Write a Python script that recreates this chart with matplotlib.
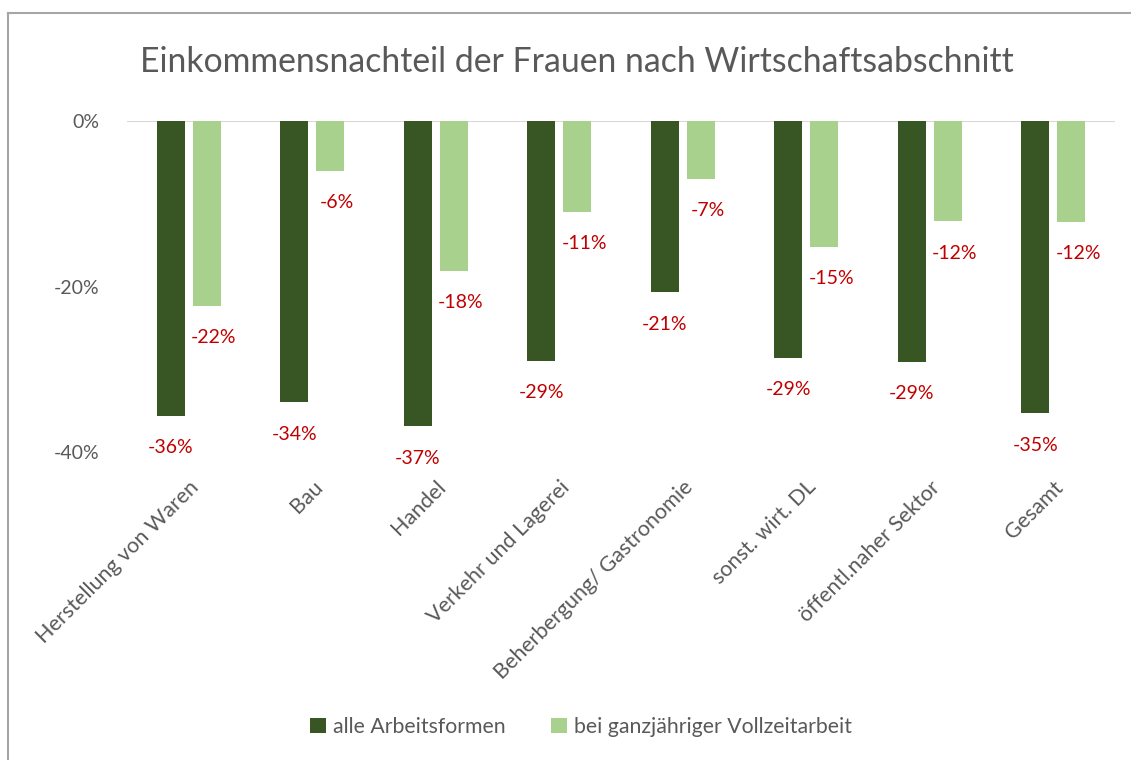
"""Einkommensnachteil der Frauen nach Wirtschaftsabschnitt - Excel-style column chart."""

import matplotlib

matplotlib.use("Agg")
import matplotlib.pyplot as plt
import numpy as np
from matplotlib.lines import Line2D

plt.rcParams["font.family"] = ["Lato", "DejaVu Sans"]

categories = [
    "Herstellung von Waren",
    "Bau",
    "Handel",
    "Verkehr und Lagerei",
    "Beherbergung/ Gastronomie",
    "sonst. wirt. DL",
    "öffentl.naher Sektor",
    "Gesamt",
]
alle_arbeitsformen = [-35.6, -34.0, -36.9, -29.0, -20.7, -28.6, -29.1, -35.3]
vollzeit = [-22.3, -6.0, -18.1, -11.0, -7.0, -15.2, -12.1, -12.2]
series_names = ["alle Arbeitsformen", "bei ganzjähriger Vollzeitarbeit"]
y_ticks = [0, -20, -40]

DARK = "#375623"
LIGHT = "#A9D18E"
LABEL_RED = "#C00000"
TEXT_GRAY = "#595959"

fig = plt.figure(figsize=(11.31, 7.6), dpi=100)
ax = fig.add_axes([127 / 1131, 1 - 452 / 760, (1115 - 127) / 1131, (452 - 121) / 760])

x = np.arange(len(categories))
width = 0.227
offset = 0.146
bars_dark = ax.bar(x - offset, alle_arbeitsformen, width, color=DARK, label=series_names[0])
bars_light = ax.bar(x + offset, vollzeit, width, color=LIGHT, label=series_names[1])

for bar, val in zip(bars_dark, alle_arbeitsformen):
    ax.annotate(f"{val:.0f}%", (bar.get_x() + bar.get_width() / 2, val),
                xytext=(0, -23), textcoords="offset points", ha="center", va="center",
                color=LABEL_RED, fontsize=14, annotation_clip=False)
for bar, val in zip(bars_light, vollzeit):
    ax.annotate(f"{val:.0f}%", (bar.get_x() + bar.get_width() / 2, val),
                xytext=(5, -23), textcoords="offset points", ha="center", va="center",
                color=LABEL_RED, fontsize=14, annotation_clip=False)

ax.axhline(0, color="#D9D9D9", linewidth=1.5, zorder=0)
ax.set_xlim(-0.5, len(categories) - 0.5)
ax.set_ylim(-40, 0)
ax.set_yticks(y_ticks)
ax.set_yticklabels([f"{t}%" for t in y_ticks])
ax.set_xticks(x)
ax.set_xticklabels(categories, rotation=45, ha="right", rotation_mode="anchor")
for spine in ax.spines.values():
    spine.set_visible(False)
ax.tick_params(axis="y", length=0, pad=20, labelsize=14, labelcolor=TEXT_GRAY)
ax.tick_params(axis="x", length=0, pad=18, labelsize=15.5, labelcolor=TEXT_GRAY)

fig.text(577 / 1131, 1 - 62 / 760, "Einkommensnachteil der Frauen nach Wirtschaftsabschnitt",
         ha="center", va="center", fontsize=24.3, color=TEXT_GRAY)

leg = fig.legend(loc="center", bbox_to_anchor=(581 / 1131, 1 - 727 / 760), ncol=2,
                 frameon=False, fontsize=15.3, handlelength=0.75, handleheight=0.75,
                 handletextpad=0.33, columnspacing=2.1)
for text in leg.get_texts():
    text.set_color(TEXT_GRAY)

# chart border (only top and left edges are inside the cropped picture)
fig.add_artist(Line2D([8 / 1131, 1], [1 - 13 / 760, 1 - 13 / 760], transform=fig.transFigure,
                      color="#A6A6A6", linewidth=1.5))
fig.add_artist(Line2D([8 / 1131, 8 / 1131], [0, 1 - 13 / 760], transform=fig.transFigure,
                      color="#A6A6A6", linewidth=1.5))

fig.savefig("out.png", dpi=100)
